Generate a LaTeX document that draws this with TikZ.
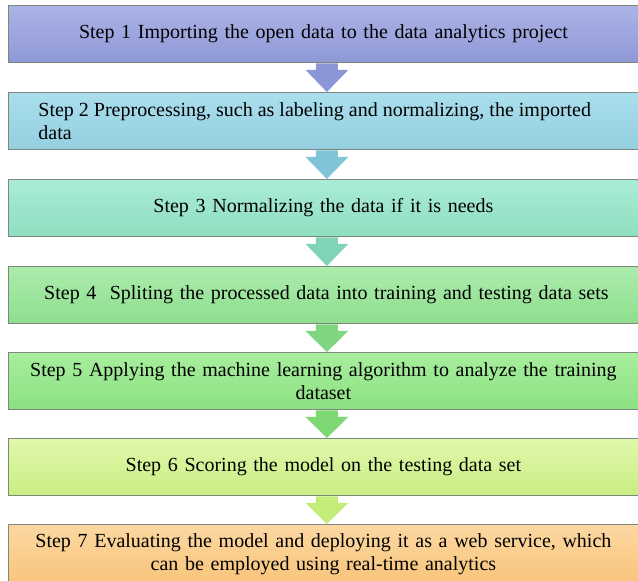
\documentclass[tikz,border=0pt]{standalone}
\usepackage{fontspec}
\setmainfont{Liberation Serif}
\usetikzlibrary{calc}
\definecolor{b1t}{RGB}{172,180,230}\definecolor{b1b}{RGB}{142,152,214}
\definecolor{b2t}{RGB}{170,222,236}\definecolor{b2b}{RGB}{148,207,224}
\definecolor{b3t}{RGB}{170,236,214}\definecolor{b3b}{RGB}{142,222,192}
\definecolor{b4t}{RGB}{172,236,172}\definecolor{b4b}{RGB}{142,222,142}
\definecolor{b5t}{RGB}{168,238,158}\definecolor{b5b}{RGB}{140,224,130}
\definecolor{b6t}{RGB}{224,248,172}\definecolor{b6b}{RGB}{200,238,130}
\definecolor{b7t}{RGB}{252,216,162}\definecolor{b7b}{RGB}{248,196,122}
\definecolor{a1}{RGB}{138,150,214}
\definecolor{a2}{RGB}{128,196,216}
\definecolor{a3}{RGB}{128,212,182}
\definecolor{a4}{RGB}{128,214,128}
\definecolor{a5}{RGB}{126,216,116}
\definecolor{a6}{RGB}{196,236,120}
\definecolor{edge}{RGB}{125,135,125}
\begin{document}
\begin{tikzpicture}[x=1pt,y=-1pt,
  stepbox/.style={draw=edge, line width=0.8pt, minimum width=630pt, minimum height=57pt,
    anchor=north west, inner xsep=10pt, inner ysep=0pt, text width=610pt, align=center,
    font=\fontsize{20}{23}\selectfont}]
\useasboundingbox (0,0) rectangle (638,581);
\node[stepbox, top color=b1t, bottom color=b1b] (b1) at (8,5) {Step 1 Importing the open data to the data analytics project};
\node[stepbox, top color=b2t, bottom color=b2b, align=flush left, inner xsep=30pt, text width=570pt] (b2) at (8,92) {\mbox{Step 2 Preprocessing, such as labeling and normalizing, the imported}\\data};
\node[stepbox, top color=b3t, bottom color=b3b] (b3) at (8,179) {Step 3 Normalizing the data if it is needs};
\node[stepbox, top color=b4t, bottom color=b4b] (b4) at (8,266) {\hspace*{6pt}Step 4\ \ Spliting the processed data into training and testing data sets};
\node[stepbox, top color=b5t, bottom color=b5b] (b5) at (8,352) {Step 5 Applying the machine learning algorithm to analyze the training\\dataset};
\node[stepbox, top color=b6t, bottom color=b6b] (b6) at (8,438) {Step 6 Scoring the model on the testing data set};
\node[stepbox, top color=b7t, bottom color=b7b, minimum height=60pt] (b7) at (8,524) {Step 7 Evaluating the model and deploying it as a web service, which\\can be employed using real-time analytics};
\foreach \u/\v/\c in {b1/b2/a1, b2/b3/a2, b3/b4/a3, b4/b5/a4, b5/b6/a5, b6/b7/a6}{
  \fill[\c] ($(\u.south)+(-7.5,0.6)$) -- ($(\u.south)+(14.5,0.6)$) -- ($(\u.south)+(14.5,7)$)
    -- ($(\u.south)+(25,7)$) -- ($(\v.north)+(3.5,0)$) -- ($(\u.south)+(-18,7)$)
    -- ($(\u.south)+(-7.5,7)$) -- cycle;
}
\end{tikzpicture}
\end{document}
